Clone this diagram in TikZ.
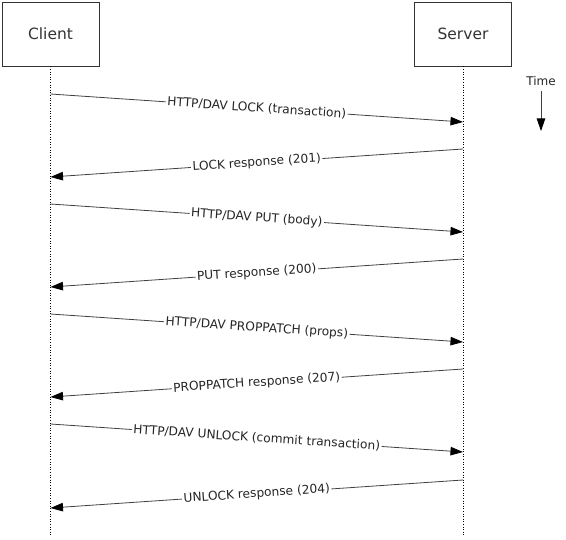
\documentclass[tikz,border=0pt]{standalone}
\usepackage{fontspec}
\setmainfont{DejaVu Sans}
\usetikzlibrary{arrows.meta}
\begin{document}
\begin{tikzpicture}[x=1pt,y=-1pt,
  actor/.style={draw=black!80,line width=0.7pt,minimum width=97pt,minimum height=64pt,inner sep=0pt,font=\fontsize{15.5}{18}\selectfont,text=black!80},
  life/.style={dotted,line width=0.6pt},
  msg/.style={draw=black!75,line width=0.8pt,-{Triangle[length=12.5pt,width=8.5pt,fill=black,color=black]}},
  lbl/.style={fill=white,inner sep=1.5pt,sloped,midway,font=\fontsize{12.2}{14}\selectfont,text=black!85}]
\useasboundingbox (0,0) rectangle (566,540);
\node[actor] (client) at (50.5,34) {Client};
\node[actor] (server) at (463,34) {Server};
\coordinate (cend) at (50.5,536);
\coordinate (send) at (463,536);
\draw[life] (client.south) -- (cend);
\draw[life] (server.south) -- (send);
\foreach \i/\y in {1/94,2/149,3/204,4/259,5/314,6/369,7/424,8/480}{
  \coordinate (c\i a) at (50.5,\y);
  \coordinate (c\i b) at (50.5,\y+28);
  \coordinate (s\i a) at (463,\y);
  \coordinate (s\i b) at (463,\y+28);
}
\draw[msg] (c1a) -- node[lbl]{HTTP/DAV LOCK (transaction)} (s1b);
\draw[msg] (s2a) -- node[lbl]{LOCK response (201)} (c2b);
\draw[msg] (c3a) -- node[lbl]{HTTP/DAV PUT (body)} (s3b);
\draw[msg] (s4a) -- node[lbl]{PUT response (200)} (c4b);
\draw[msg] (c5a) -- node[lbl]{HTTP/DAV PROPPATCH (props)} (s5b);
\draw[msg] (s6a) -- node[lbl]{PROPPATCH response (207)} (c6b);
\draw[msg] (c7a) -- node[lbl]{HTTP/DAV UNLOCK (commit transaction)} (s7b);
\draw[msg] (s8a) -- node[lbl]{UNLOCK response (204)} (c8b);
\node[font=\fontsize{12}{14}\selectfont,text=black!85,inner sep=1pt] (time) at (541,81) {Time};
\coordinate (timestart) at (541,91);
\coordinate (timeend) at (541,131);
\draw[msg] (timestart) -- (timeend);
\end{tikzpicture}
\end{document}
